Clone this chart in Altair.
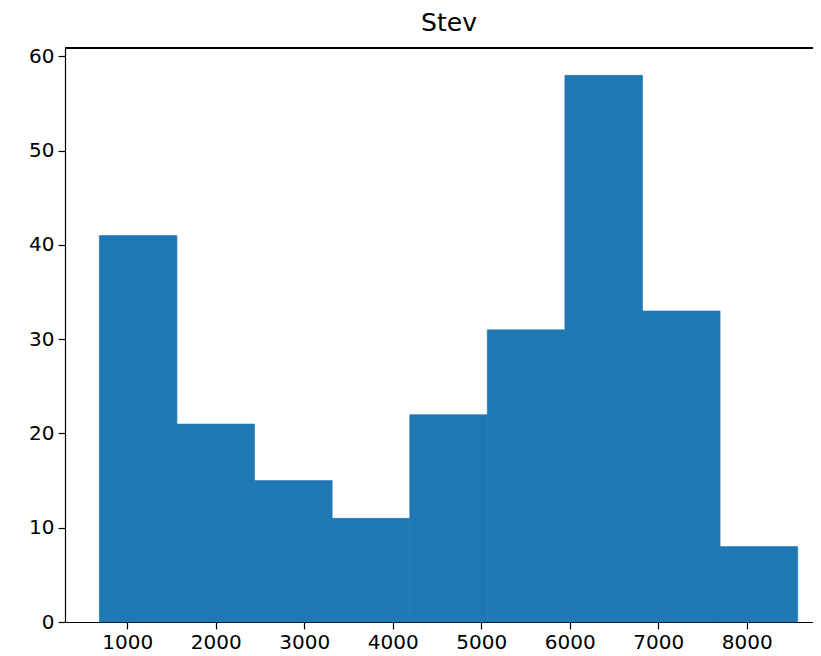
import altair as alt
import pandas as pd

# Histogram bin edges and counts
bin_edges = [684, 1561, 2438, 3315, 4192, 5068, 5945, 6822, 7699, 8576]
counts = [41, 21, 15, 11, 22, 31, 58, 33, 8]
x_ticks = [1000, 2000, 3000, 4000, 5000, 6000, 7000, 8000]
y_ticks = [0, 10, 20, 30, 40, 50, 60]
title_text = "Stev"

df = pd.DataFrame({
    "start": bin_edges[:-1],
    "end": bin_edges[1:],
    "count": counts,
})

W, H = 748, 574
FONT = "DejaVu Sans"

x_scale = alt.Scale(domain=[296, 8749], nice=False, zero=False)
y_scale = alt.Scale(domain=[0, 60.9], nice=False)

axis_style = dict(title=None, grid=False, labelFont=FONT, labelFontSize=20,
                  labelColor="black", tickColor="black", tickSize=7,
                  tickWidth=1.2, domainColor="black", domainWidth=1.2)

bars = alt.Chart(df).mark_rect(color="#1f77b4", stroke="#1f77b4",
                               strokeWidth=0.6).encode(
    x=alt.X("start:Q", scale=x_scale,
            axis=alt.Axis(values=x_ticks, format="d", labelPadding=3, **axis_style)),
    x2="end:Q",
    y=alt.Y("count:Q", scale=y_scale,
            axis=alt.Axis(values=y_ticks, labelPadding=4, **axis_style)),
    y2=alt.datum(0),
)

top_spine = alt.Chart(df).mark_rule(color="black", strokeWidth=1.2).encode(
    x=alt.value(0), x2=alt.value(W), y=alt.value(0)
)

chart = (bars + top_spine).properties(
    width=W, height=H,
    autosize=alt.AutoSizeParams(type="none"),
    padding={"left": 57, "top": 40, "right": 0, "bottom": 34},
    title=alt.TitleParams(title_text, font=FONT, fontSize=25, fontWeight="normal",
                          color="black", anchor="middle", dx=10, offset=10),
).configure_view(stroke=None)

chart.save("out.html", embed_options={"renderer": "svg", "actions": False})
